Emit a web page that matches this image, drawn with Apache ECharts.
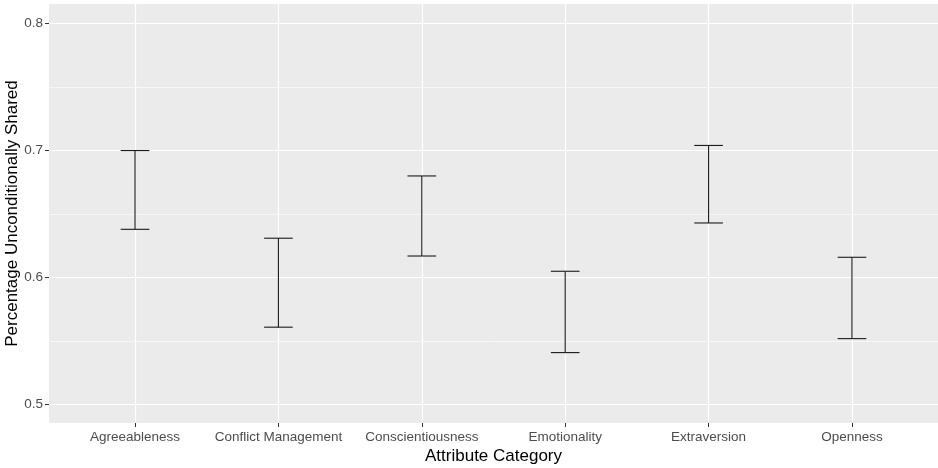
<!DOCTYPE html>
<html><head><meta charset="utf-8">
<script src="https://cdn.jsdelivr.net/npm/echarts@6/dist/echarts.min.js"></script>
<style>html,body{margin:0;padding:0;background:#fff}#c{width:938px;height:468px}</style>
</head><body><div id="c"></div>
<script>
const categories = ['Agreeableness','Conflict Management','Conscientiousness','Emotionality','Extraversion','Openness'];
const lowValues  = [0.638, 0.561, 0.617, 0.541, 0.643, 0.552];
const highValues = [0.700, 0.631, 0.680, 0.605, 0.704, 0.616];
const yTicks = [0.5, 0.6, 0.7, 0.8];
const yMinorTicks = [0.55, 0.65, 0.75];
const yRange = [0.4856, 0.8153];
const xPositions = categories.map((c, i) => i + 1);

const barData = categories.map((c, i) => [i + 1, lowValues[i], highValues[i]]);

const chart = echarts.init(document.getElementById('c'), null, {renderer: 'canvas'});
const font = 'Liberation Sans, Arial, sans-serif';
chart.setOption({
  animation: false,
  grid: {left: 49, right: 0, top: 4, bottom: 45, show: true, backgroundColor: '#EBEBEB', borderWidth: 0,
    containLabel: false, outerBoundsMode: 'none'},
  xAxis: {
    type: 'value', min: 0.4, max: 6.6,
    name: 'Attribute Category', nameLocation: 'middle', nameGap: 25, nameMoveOverlap: false,
    nameTextStyle: {fontFamily: font, fontSize: 17, color: '#000'},
    axisLine: {show: false},
    axisTick: {show: true, length: 4, lineStyle: {color: '#333', width: 1}, customValues: xPositions},
    axisLabel: {show: true, margin: 7, fontFamily: font, fontSize: 13.5, color: '#4D4D4D',
      customValues: xPositions, hideOverlap: false,
      formatter: v => categories[Math.round(v) - 1] || ''},
    splitLine: {show: false}
  },
  yAxis: {
    type: 'value', min: yRange[0], max: yRange[1],
    name: 'Percentage Unconditionally Shared', nameLocation: 'middle', nameGap: 28, nameMoveOverlap: false,
    nameTextStyle: {fontFamily: font, fontSize: 17, color: '#000'},
    axisLine: {show: false},
    axisTick: {show: true, length: 4, lineStyle: {color: '#333', width: 1}, customValues: yTicks},
    axisLabel: {show: true, margin: 6, fontFamily: font, fontSize: 13.5, color: '#4D4D4D',
      customValues: yTicks, formatter: v => v.toFixed(1)},
    splitLine: {show: false}
  },
  series: [
    {
      type: 'line', data: [], silent: true,
      markLine: {
        silent: true, symbol: 'none', label: {show: false}, animation: false,
        data: [
          ...yMinorTicks.map(v => ({yAxis: v, lineStyle: {color: '#fff', width: 0.6, type: 'solid'}})),
          ...yTicks.map(v => ({yAxis: v, lineStyle: {color: '#fff', width: 1.2, type: 'solid'}})),
          ...xPositions.map(v => ({xAxis: v, lineStyle: {color: '#fff', width: 1.2, type: 'solid'}}))
        ]
      }
    },
    {
      type: 'custom', data: barData, z: 5,
      renderItem: (params, api) => {
        const x = api.value(0), lo = api.value(1), hi = api.value(2);
        const pLo = api.coord([x, lo]), pHi = api.coord([x, hi]);
        const l = api.coord([x - 0.1, lo])[0], r = api.coord([x + 0.1, lo])[0];
        const st = {stroke: '#1a1a1a', lineWidth: 1.1};
        return {type: 'group', children: [
          {type: 'line', shape: {x1: pLo[0], y1: pLo[1], x2: pHi[0], y2: pHi[1]}, style: st},
          {type: 'line', shape: {x1: l, y1: pLo[1], x2: r, y2: pLo[1]}, style: st},
          {type: 'line', shape: {x1: l, y1: pHi[1], x2: r, y2: pHi[1]}, style: st}
        ]};
      }
    }
  ]
});
</script></body></html>
